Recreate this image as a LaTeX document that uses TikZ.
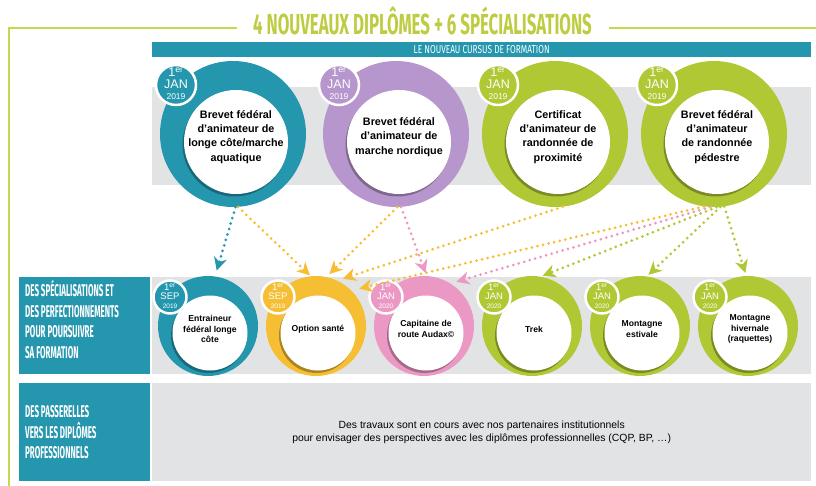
\documentclass[tikz,border=0pt]{standalone}
\usepackage{fontspec}
\setmainfont{Liberation Sans}
\newfontfamily\condfont{Fira Sans}[FakeStretch=0.58]
\newfontfamily\labelfont{Fira Sans}[FakeStretch=0.47]
\newfontfamily\bannerfont{Fira Sans}[FakeStretch=0.72]
\usetikzlibrary{arrows.meta,shadows}

\definecolor{cteal}{RGB}{36,150,174}
\definecolor{cpurple}{RGB}{182,150,204}
\definecolor{cgreen}{RGB}{176,200,52}
\definecolor{cyellow}{RGB}{246,190,50}
\definecolor{cpink}{RGB}{236,152,196}
\definecolor{cgray}{RGB}{226,227,229}
\definecolor{cline}{RGB}{200,214,80}
\definecolor{ctitle}{RGB}{190,204,66}

\tikzset{
    band/.style={fill=cgray, inner sep=0pt}, % bandes grises
    label box/.style={fill=cteal, inner sep=0pt},
    label text/.style={text=white, align=left, inner sep=0pt, anchor=west,
        font=\labelfont\bfseries\fontsize{17}{20.5}\selectfont},
    ring/.style={circle, fill=#1, inner sep=0pt},
    hole/.style={circle, fill=white, inner sep=0pt,
        drop shadow={shadow xshift=-1.5pt, shadow yshift=-2.5pt, opacity=.3, fill=black}},
    badge/.style={circle, fill=#1, draw=white, line width=2.5pt, inner sep=0pt,
        drop shadow={shadow xshift=.5pt, shadow yshift=-1pt, opacity=.2, fill=black}},
    datetext/.style={text=white, align=center, inner sep=0pt},
    flow/.style={line width=3pt, dash pattern=on 0pt off 5.7pt, line cap=round,
        -{Stealth[length=13pt, width=13pt, inset=4pt]}}
}

\begin{document}
\begin{tikzpicture}[x=1pt, y=-1pt]
    \useasboundingbox (0,0) rectangle (816,486);

    % titre et cadre
    \node[text=ctitle, font=\condfont\bfseries\fontsize{29}{29}\selectfont] (title) at (422.5,21) {4 NOUVEAUX DIPLÔMES + 6 SPÉCIALISATIONS};
    \coordinate (corner) at (9,28);
    \draw[cline, line width=2pt] ([xshift=-13pt]title.west |- corner) -- (corner) -- (9,486);
    \draw[cline, line width=2pt] ([xshift=14pt]title.east |- corner) -- (816,28);

    \node[fill=cteal, text=white, minimum width=659pt, minimum height=15pt, inner sep=0pt, anchor=north west,
        font=\bannerfont\fontsize{11.5}{11.5}\selectfont] (banner) at (152,42) {LE NOUVEAU CURSUS DE FORMATION};

    % bandes
    \fill[band] (152,87) rectangle (811,185);
    \fill[band] (152,277) rectangle (811,374);
    \node[label box, minimum width=131pt, minimum height=97pt, anchor=north west] (spec) at (19,277) {};
    \node[label text] (spec txt) at ([xshift=6pt, yshift=6pt]spec.west)
        {DES SPÉCIALISATIONS ET\\DES PERFECTIONNEMENTS\\POUR POURSUIVRE\\SA FORMATION};
    \node[label box, minimum width=131pt, minimum height=98pt, anchor=north west] (bridge) at (19,383) {};
    \node[label text] (bridge txt) at ([xshift=6pt]bridge.west)
        {DES PASSERELLES\\VERS LES DIPLÔMES\\PROFESSIONNELS};
    \node[band, minimum width=659pt, minimum height=98pt, anchor=north west, align=center,
        font=\fontsize{10.4}{13}\selectfont] (works) at (152,383)
        {Des travaux sont en cours avec nos partenaires institutionnels\\pour envisager des perspectives avec les diplômes professionnelles (CQP, BP, …)};

    % les 4 diplomes
    \foreach \i/\x/\col/\txt in {1/233/cteal/{Brevet fédéral\\d’animateur de\\longe côte/marche\\aquatique},
            2/396/cpurple/{Brevet fédéral\\d’animateur de\\marche nordique},
            3/555/cgreen/{Certificat\\d’animateur de\\randonnée de\\proximité},
            4/714/cgreen/{Brevet fédéral\\d’animateur\\de randonnée\\pédestre}} {
        \node[ring=\col, minimum size=146pt] (t\i) at (\x,134) {};
        \node[hole, minimum size=104pt] (t\i hole) at (\x+3,142) {};
        \node[align=center, inner sep=0pt, font=\bfseries\fontsize{10.8}{14.2}\selectfont] (t\i txt) at (\x+3,137) {\txt};
        \node[badge=\col, minimum size=40pt] (t\i date) at (\x-57,85) {};
        \node[datetext, font=\fontsize{12.5}{11.5}\selectfont] at ([yshift=1pt]t\i date) {1\textsuperscript{er}\\JAN\\{\fontsize{8.5}{8.5}\selectfont 2019}};
    }

    % les 6 specialisations
    \foreach \i/\x/\col/\mon/\yr/\txt in {1/208/cteal/SEP/2019/{Entraineur\\fédéral longe\\côte},
            2/316/cyellow/SEP/2019/{Option santé},
            3/424/cpink/JAN/2020/{Capitaine de\\route Audax©},
            4/532/cgreen/JAN/2020/{Trek},
            5/640/cgreen/JAN/2020/{Montagne\\estivale},
            6/748/cgreen/JAN/2020/{Montagne\\hivernale\\(raquettes)}} {
        \node[ring=\col, minimum size=100pt] (b\i) at (\x,326) {};
        \node[hole, minimum size=75pt] (b\i hole) at (\x+2,333) {};
        \node[align=center, inner sep=0pt, font=\bfseries\fontsize{8.6}{10.5}\selectfont] (b\i txt) at (\x+2,329) {\txt};
        \node[badge=\col, minimum size=33pt] (b\i date) at (\x-38,297) {};
        \node[datetext, font=\fontsize{9.5}{8.8}\selectfont] at ([yshift=1pt]b\i date) {1\textsuperscript{er}\\\mon\\{\fontsize{6.5}{6.5}\selectfont \yr}};
    }

    % fleches
    \draw[flow, cteal, shorten >=6pt] (t1.-88) -- (b1.82);
    \draw[flow, cyellow, shorten >=1pt] (t1.-86) -- (b2.96);
    \draw[flow, cyellow, shorten >=4pt] (t2.-89) -- (b2.78);
    \draw[flow, cpink, shorten >=3pt] (t2.-86) -- (b3.87);
    \draw[flow, cyellow, shorten >=6pt] (t3.-84) -- (b2.65);
    \draw[flow, cyellow, shorten >=8pt] (t4.-98) -- (b2.45);
    \draw[flow, cpink, shorten >=6pt] (t4.-93) -- (b3.58);
    \draw[flow, cgreen, shorten >=2pt] (t4.-88) -- (b4.80);
    \draw[flow, cgreen, shorten >=2pt] (t4.-85) -- (b5.82);
    \draw[flow, cgreen, shorten >=3pt] (t4.-82) -- (b6.92);
\end{tikzpicture}
\end{document}
